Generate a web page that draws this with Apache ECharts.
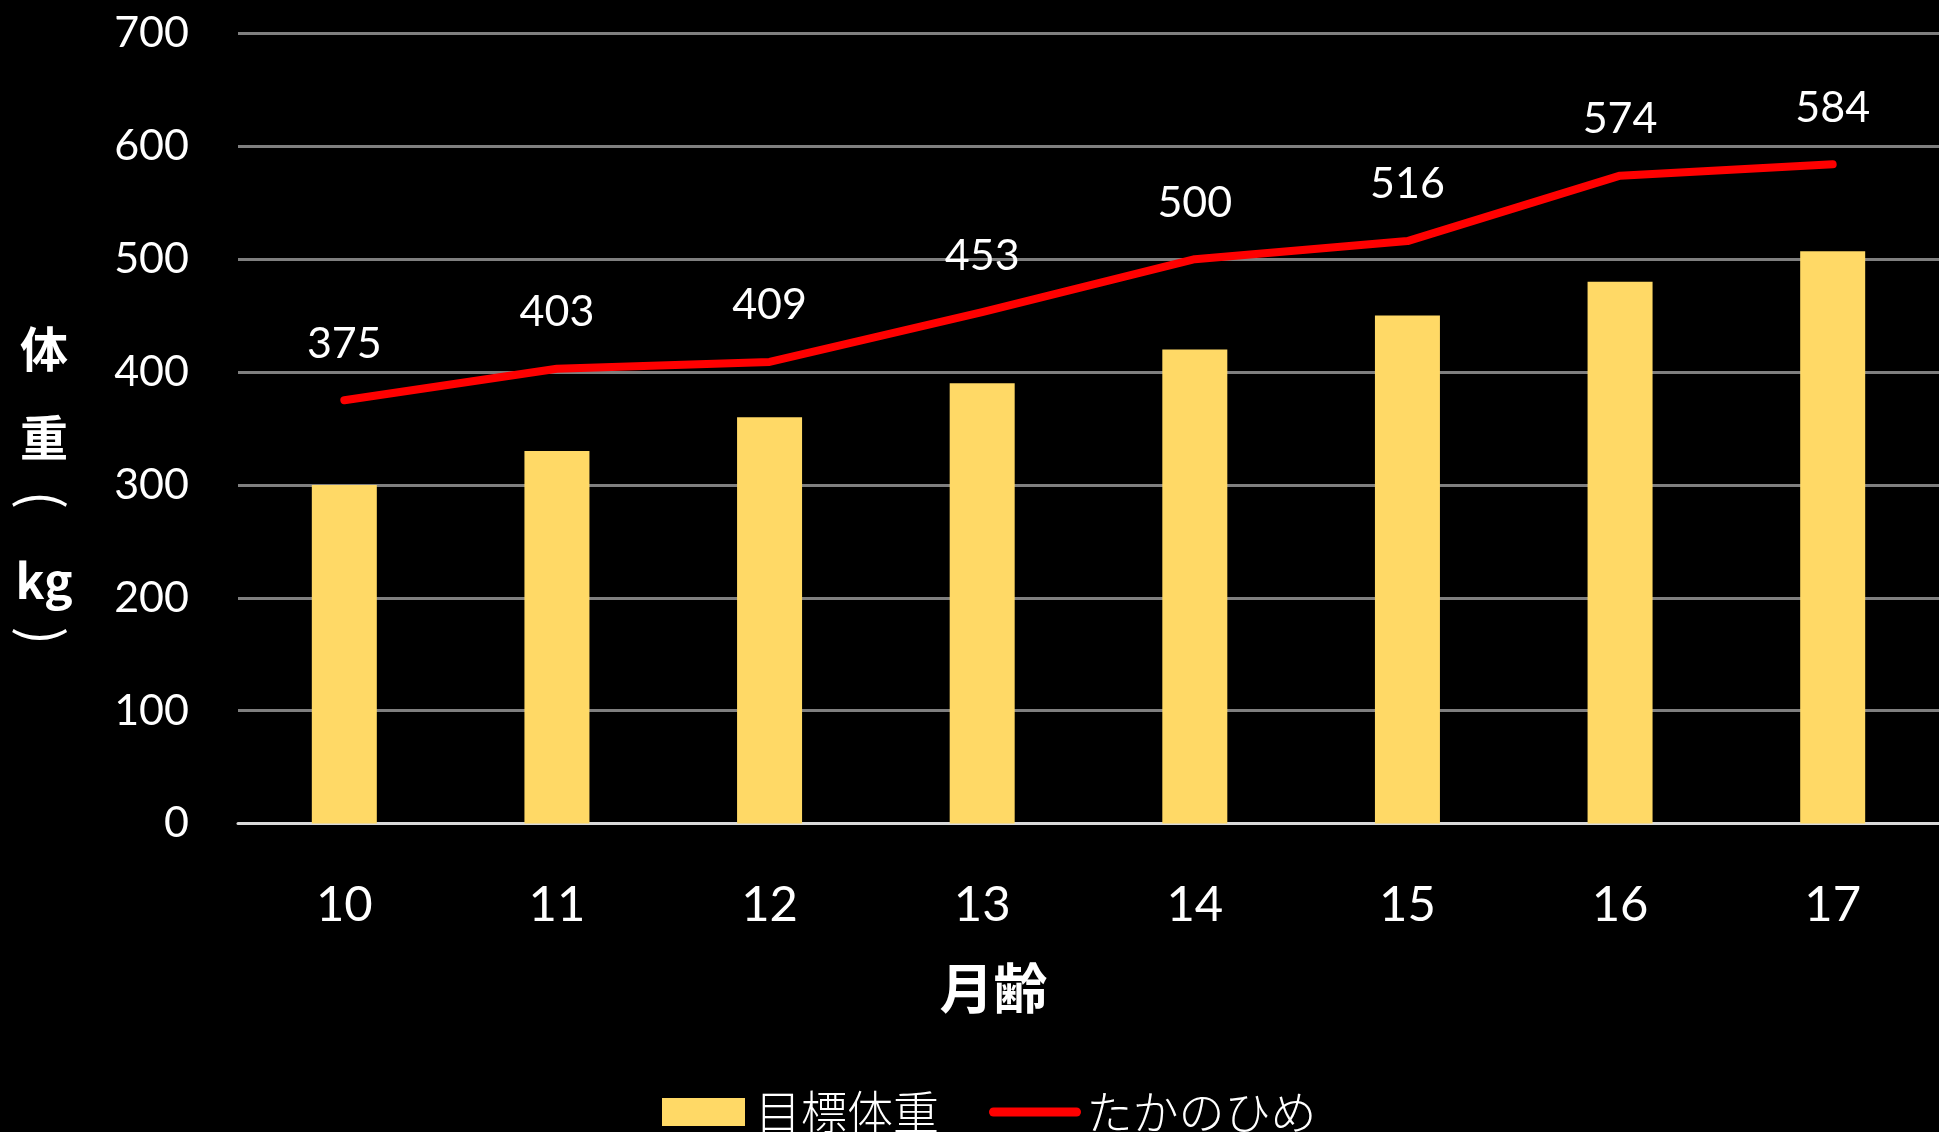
<!DOCTYPE html>
<html>
<head>
<meta charset="utf-8">
<script src="https://cdn.jsdelivr.net/npm/echarts@6/dist/echarts.min.js"></script>
<style>
  html, body { margin: 0; padding: 0; background: #000; }
  #chart { width: 1939px; height: 1132px; }
</style>
</head>
<body>
<div id="chart"></div>
<script>
const categories = ['10', '11', '12', '13', '14', '15', '16', '17'];
const targetWeight = [300, 330, 360, 390, 420, 450, 480, 507];
const takanohime = [375, 403, 409, 453, 500, 516, 574, 584];
const seriesNames = ['目標体重', 'たかのひめ'];
const xAxisTitle = '月齢';
const yAxisTitleParts = ['体', '重', '(', 'kg', ')'];
const yMin = 0, yMax = 700, yInterval = 100;

const latin = 'Lato, "Open Sans", sans-serif';
const cjk = '"Noto Sans CJK JP", sans-serif';

const titleLayout = [
  { y: 349, rotate: false, size: 48, weight: 'bold' },
  { y: 438, rotate: false, size: 48, weight: 'bold' },
  { y: 500, rotate: true, size: 54, weight: 'normal' },
  { y: 581, rotate: false, size: 48, weight: 'bold' },
  { y: 636, rotate: true, size: 54, weight: 'normal' }
];

const chart = echarts.init(document.getElementById('chart'));
chart.setOption({
  backgroundColor: '#000000',
  animation: false,
  grid: { left: 238, right: -4, top: 33.4, bottom: 308.4, containLabel: false },
  legend: {
    left: 657, top: 1084,
    itemWidth: 83, itemHeight: 28, itemGap: 50,
    data: [
      { name: seriesNames[0], icon: 'rect' },
      { name: seriesNames[1], itemStyle: { opacity: 0 } }
    ],
    lineStyle: { width: 9, cap: 'round' },
    textStyle: { color: '#ffffff', fontSize: 46, fontFamily: cjk, fontWeight: 300, lineHeight: 46, padding: [0, 0, 0, 5] }
  },
  xAxis: {
    type: 'category',
    data: categories,
    axisTick: { show: false },
    axisLine: { lineStyle: { color: '#D9D9D9', width: 3 } },
    axisLabel: { color: '#ffffff', fontSize: 49, fontFamily: latin, margin: 57 },
    name: xAxisTitle,
    nameLocation: 'middle',
    nameGap: 138,
    nameTextStyle: { color: '#ffffff', fontSize: 54, fontWeight: 'bold', fontFamily: cjk, padding: [0, 190, 0, 0] }
  },
  yAxis: {
    type: 'value',
    min: yMin, max: yMax, interval: yInterval,
    axisLine: { show: false },
    axisTick: { show: false },
    axisLabel: { color: '#ffffff', fontSize: 43, fontFamily: latin, margin: 49 },
    splitLine: { lineStyle: { color: '#7F7F7F', width: 3 } }
  },
  graphic: yAxisTitleParts.map((ch, i) => ({
    type: 'group',
    x: 44, y: titleLayout[i].y,
    rotation: titleLayout[i].rotate ? -Math.PI / 2 : 0,
    children: [{
      type: 'text',
      x: 0, y: 0,
      style: {
        text: ch, fill: '#ffffff', fontSize: titleLayout[i].size, fontWeight: titleLayout[i].weight, fontFamily: cjk,
        align: 'center', verticalAlign: 'middle'
      }
    }]
  })),
  series: [
    {
      name: seriesNames[0],
      type: 'bar',
      data: targetWeight,
      barWidth: 65,
      itemStyle: { color: '#FFD966' }
    },
    {
      name: seriesNames[1],
      type: 'line',
      data: takanohime,
      symbol: 'circle',
      symbolSize: 2,
      itemStyle: { color: '#FF0000' },
      lineStyle: { color: '#FF0000', width: 8, cap: 'round', join: 'round' },
      label: { show: true, position: 'top', distance: 34, color: '#ffffff', fontSize: 43, fontFamily: latin }
    }
  ]
});
</script>
</body>
</html>
